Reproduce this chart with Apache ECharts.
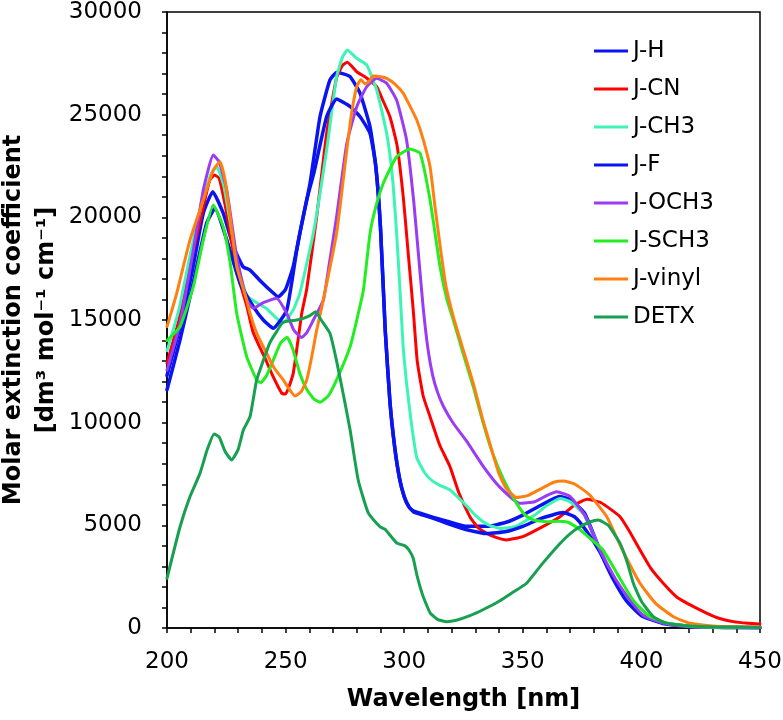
<!DOCTYPE html>
<html>
<head>
<meta charset="utf-8">
<script src="https://cdn.jsdelivr.net/npm/echarts@6/dist/echarts.min.js"></script>
<style>
html,body{margin:0;padding:0;background:#fff;}
#chart{width:783px;height:720px;}
</style>
</head>
<body>
<div id="chart"></div>
<script>
// Wavelength [nm], molar extinction coefficient pairs
var seriesNames = ['J-H','J-CN','J-CH3','J-F','J-OCH3','J-SCH3','J-vinyl','DETX'];
var xTicks = [200,250,300,350,400,450];
var yTicks = [0,5000,10000,15000,20000,25000,30000];

var jH = [[200,12300],[205.5,14680],[211,17600],[215.3,20200],[219.3,21250],[223.7,20200],[228,18570],[232,17600],[235,17430],[239,16950],[243.4,16460],[246.9,16130],[250,16500],[253.2,17600],[256,19230],[260.3,21660],[264.5,24900],[268.7,26690],[271.5,27050],[274,27000],[277.2,26850],[281.4,26040],[285.6,24410],[288,22500],[290,19500],[292,14500],[294,11000],[296,8800],[298,7300],[300,6400],[302,5900],[304,5700],[308,5550],[312,5400],[318,5200],[326,4950],[335,4950],[343,5150],[350,5500],[358,6000],[365.5,6400],[370,6250],[376,5600],[382.5,3800],[388,2500],[393.8,1360],[400,650],[409,250],[420,80],[435,30],[450,20]];

var jCN = [[200,12900],[205,15000],[210,17800],[215.3,20500],[218,21800],[220,22060],[222,21900],[225,20300],[228,18300],[230.8,16790],[233.6,15700],[236.3,14400],[239,13700],[241.5,13100],[244.5,12300],[248.4,11430],[250,11400],[253.2,12400],[256.8,15320],[258.9,16500],[263.1,20030],[267.3,24090],[271.5,26800],[274,27400],[276,27550],[280,27090],[284,26800],[288.4,26360],[291,25700],[294,24900],[297,23500],[299.6,21000],[301.5,18500],[303.8,15500],[305.5,13000],[308,11300],[310.9,10290],[315,8900],[319.3,7860],[323,6600],[327.7,5420],[331,4900],[334.8,4610],[339,4400],[343.2,4290],[350,4450],[357,4850],[365.7,5420],[372,6000],[377,6270],[383,6100],[391,5420],[395,4700],[399.4,3800],[404,2900],[409.2,2180],[415,1500],[424.7,880],[432,500],[438.7,310],[445,230],[450,200]];

var jCH3 = [[200,13500],[205,15500],[210,18300],[215,20800],[218.5,22100],[221,22460],[224,21500],[227,19500],[230,17600],[233.6,16200],[237,15900],[242,15550],[246,15100],[249,14870],[253.2,15490],[256,16300],[261.7,19230],[267.3,23280],[271.5,26850],[274,27800],[276,28150],[280,27740],[284.2,27420],[288.4,26200],[292.6,24090],[295,22000],[296.8,19230],[298.2,16500],[299.5,13800],[301,11920],[303,10000],[305.3,8300],[309,7500],[312,7150],[315,6950],[319.3,6720],[325,6100],[330.6,5420],[335,5050],[340.4,4850],[347,4950],[355,5500],[360,5950],[365.7,6310],[370,6150],[376,5500],[382.5,3800],[388,2500],[394,1360],[400,650],[409,250],[420,80],[435,30],[450,20]];

var jF = [[200,11600],[205.5,14030],[211,16790],[216.7,19710],[220.2,20440],[225.2,18900],[230.8,16790],[236.4,15650],[240.6,15000],[244.8,14600],[250.5,15490],[254.7,18400],[258.9,20840],[262,22200],[267.3,24900],[271.5,25760],[277.2,25390],[281.4,24900],[285.6,24090],[288,22500],[290,19500],[292,14500],[294,11000],[296,8800],[298,7300],[300,6400],[302,5900],[304,5650],[308,5500],[312,5350],[318,5100],[326,4800],[335,4600],[343,4700],[350,4950],[358,5350],[367,5620],[372,5400],[377,4700],[382.5,3700],[388,2400],[393.8,1300],[400,600],[409,220],[420,70],[435,25],[450,15]];

var jOCH3 = [[200,12560],[205.5,14840],[211.1,18400],[215.3,21330],[219.5,23030],[222,22700],[225.2,21330],[229.4,18080],[233.6,15970],[236.4,15570],[240.6,15850],[246.2,16060],[250.5,15320],[253.5,14500],[256.8,14150],[259,14400],[261.7,15000],[265.9,15970],[268.5,17800],[271.5,20030],[275.8,23600],[280,25390],[284.2,26360],[288.4,26770],[292.6,26530],[296.8,25710],[301,23770],[304,20800],[306,18200],[308,15600],[310,13600],[312,12300],[314,11500],[316.5,10800],[320.7,9970],[326.3,9100],[333.4,7860],[340,6900],[348.8,6070],[355,6150],[360,6450],[364.3,6640],[370,6400],[376,5500],[382.5,3800],[389,2400],[395.2,1360],[401,600],[410,200],[420,60],[435,20],[450,10]];

var jSCH3 = [[200,14000],[205.5,14680],[211.1,16620],[215.3,18900],[219.5,20600],[223.7,19540],[226.6,17800],[229.4,15320],[233.6,13210],[237.8,12080],[239.5,11950],[242,12300],[244.8,13050],[248,13900],[250.6,14160],[253,13600],[256,12400],[259,11600],[262,11150],[264.5,11000],[268,11300],[271.5,12080],[277.2,13700],[280,15000],[282.8,16460],[285.6,19230],[288,20500],[291.2,21660],[296.8,22950],[302.4,23330],[306.7,23120],[310.9,20840],[315.1,17600],[318,16000],[320.7,15000],[325,13300],[329,11800],[333,10100],[337,8600],[342,7200],[347.4,6070],[351,5500],[354.4,5260],[360,5180],[365,5200],[369,5150],[374,4800],[378,4400],[383.8,3800],[390,2600],[396.5,1360],[403,600],[410.5,250],[420,80],[435,30],[450,20]];

var jVinyl = [[200,14680],[204.1,16300],[209.7,18900],[215.3,20840],[219.5,22300],[222.3,22710],[224.5,21800],[226.6,20030],[229.4,17600],[233.6,15970],[235,15320],[238,14300],[242,13380],[245,12700],[249,12080],[254,11300],[256.5,11500],[258.9,12080],[261,13200],[263.1,14510],[265.9,15970],[271.5,19220],[275.8,23280],[278,25200],[280,26360],[281.7,26700],[283.5,26500],[285,26600],[287,26880],[290,26850],[292.6,26770],[296,26500],[299.6,26040],[302.5,25400],[305.3,24740],[308,23800],[310.9,22460],[313,20500],[315.5,18300],[317.5,16700],[320.7,15160],[325,13500],[329.1,11920],[333,10200],[336.9,8670],[340,7500],[343,6800],[347.4,6350],[352,6450],[358,6800],[363,7100],[367.1,7160],[372,7000],[378,6500],[385.4,5420],[392,3800],[399.4,2180],[406,1200],[413.5,550],[420,250],[430,100],[440,60],[450,50]];

var detx = [[200,2420],[205.5,4930],[209.7,6400],[213.9,7530],[217,8700],[219.9,9450],[222,9300],[224.5,8600],[227.3,8180],[230,8700],[232.2,9640],[235,10290],[237.8,12080],[240.5,13000],[243.4,13900],[246,14400],[249,14900],[254.7,15000],[257.5,15080],[260,15200],[262.7,15400],[265,15000],[268.7,14350],[271.5,13000],[274.3,11400],[277.2,9640],[280.6,7210],[284.9,5590],[289.8,4930],[292,4800],[296.8,4150],[300.3,4000],[302,3800],[303.8,3400],[305.3,2600],[307.5,1700],[309.5,1100],[311,720],[314,420],[317.9,310],[322,380],[327.7,600],[333.4,900],[340,1300],[346,1750],[351.6,2180],[358,3100],[365.7,4120],[370,4600],[374.1,4930],[378,5150],[381.8,5260],[386,5000],[391,4120],[394,3200],[396.6,2180],[400,1300],[405,550],[410,250],[420,100],[435,50],[450,30]];

var seriesData = [jH, jCN, jCH3, jF, jOCH3, jSCH3, jVinyl, detx];
var colors = ['#0A14F0','#FF0000','#3CF5B4','#0A14F0','#9B3CF5','#22EE22','#FF8010','#16A050'];
var widths = [3.5,3,3,3.5,3,3,3,3];

var chart = echarts.init(document.getElementById('chart'), null, {renderer:'canvas'});
var FONT = 'DejaVu Sans';
var series = seriesNames.map(function(n,i){
  return {
    name:n, type:'line', data:seriesData[i], showSymbol:false, smooth:0.15,
    lineStyle:{color:colors[i], width:widths[i], join:'round', cap:'round'}, itemStyle:{color:colors[i]},
    emphasis:{disabled:true}, animation:false
  };
});

chart.setOption({
  animation:false,
  backgroundColor:'#fff',
  grid:{left:167, right:23, top:12, bottom:92, show:true, borderColor:'#000', borderWidth:1.5,
        backgroundColor:'transparent', containLabel:false, outerBoundsMode:'none'},
  legend:{
    orient:'vertical', left:589, top:34, itemWidth:34, itemHeight:3, itemGap:14, icon:'rect',
    data:seriesNames,
    textStyle:{fontFamily:FONT, fontSize:23, color:'#000', lineHeight:24, padding:[0,0,0,0]},
    itemStyle:{borderWidth:0}
  },
  xAxis:{
    type:'value', min:xTicks[0], max:xTicks[xTicks.length-1], interval:50,
    axisLine:{show:true, lineStyle:{color:'#000', width:1.5}},
    axisTick:{show:true, inside:false, length:5, lineStyle:{color:'#000', width:1.5}},
    minorTick:{show:true, splitNumber:5, length:5, lineStyle:{color:'#000', width:1.5}},
    splitLine:{show:false},
    axisLabel:{fontFamily:FONT, fontSize:23, color:'#000', margin:23, formatter:function(v){return String(v);}},
    name:'Wavelength [nm]', nameLocation:'middle', nameGap:60, nameMoveOverlap:false,
    nameTextStyle:{fontFamily:FONT, fontSize:24, fontWeight:'bold', color:'#000'}
  },
  yAxis:{
    type:'value', min:yTicks[0], max:yTicks[yTicks.length-1], interval:5000,
    axisLine:{show:true, lineStyle:{color:'#000', width:1.5}},
    axisTick:{show:true, inside:false, length:5, lineStyle:{color:'#000', width:1.5}},
    minorTick:{show:true, splitNumber:5, length:5, lineStyle:{color:'#000', width:1.5}},
    splitLine:{show:false},
    axisLabel:{fontFamily:FONT, fontSize:23, color:'#000', margin:25, formatter:function(v){return String(v);}},
    name:'Molar extinction coefficient\n[dm³ mol⁻¹ cm⁻¹]', nameLocation:'middle', nameGap:104, nameRotate:90, nameMoveOverlap:false,
    nameTextStyle:{fontFamily:FONT, fontSize:24, fontWeight:'bold', color:'#000', lineHeight:33}
  },
  series:series
});
</script>
</body>
</html>
